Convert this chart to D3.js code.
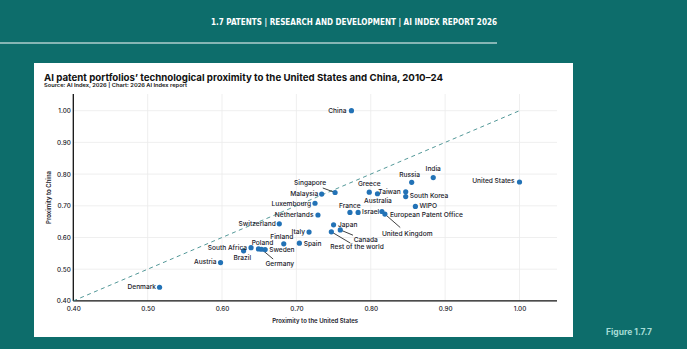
<!DOCTYPE html>
<html>
<head>
<meta charset="utf-8">
<script src="https://cdn.jsdelivr.net/npm/d3@7/dist/d3.min.js"></script>
<style>
  html, body { margin: 0; padding: 0; background: #0d6d6b; }
  svg { display: block; }
</style>
</head>
<body>
<svg id="chart" width="687" height="349"></svg>
<script>
// ---------------- DATA ----------------
const countries = ["China","United States","India","Russia","Greece","Australia","Taiwan","South Korea","WIPO",
  "European Patent Office","United Kingdom","Israel","France","Singapore","Malaysia","Luxembourg","Netherlands",
  "Switzerland","Japan","Canada","Rest of the world","Italy","Finland","Spain","South Africa","Poland","Germany",
  "Sweden","Brazil","Austria","Denmark"];
const proximityUS = [0.774,1.000,0.884,0.855,0.798,0.809,0.847,0.847,0.860,
  0.819,0.815,0.783,0.772,0.752,0.734,0.725,0.729,
  0.677,0.750,0.759,0.747,0.717,0.683,0.704,0.639,0.649,0.653,
  0.658,0.629,0.598,0.516];
const proximityChina = [1.000,0.775,0.789,0.774,0.743,0.738,0.744,0.729,0.698,
  0.674,0.682,0.679,0.679,0.742,0.737,0.708,0.671,
  0.643,0.640,0.624,0.618,0.617,0.580,0.582,0.568,0.564,0.563,
  0.562,0.558,0.521,0.443];
const xTicks = [0.40,0.50,0.60,0.70,0.80,0.90,1.00];
const yTicks = [0.40,0.50,0.60,0.70,0.80,0.90,1.00];
const diagonal = [0.40,1.00];

// ---------------- LABEL PLACEMENT (annotation layout, px offsets from point) ----------------
const labelLayout = {
  "China": {a:"end", dx:-5, dy:-0.5},
  "United States": {a:"end", dx:-5, dy:-1.5},
  "India": {a:"middle", dx:0, dy:-8.7},
  "Russia": {a:"middle", dx:-2, dy:-7.7},
  "Greece": {a:"middle", dx:0, dy:-8},
  "Australia": {a:"middle", dx:0.5, dy:7.3},
  "Taiwan": {a:"end", dx:-5, dy:0},
  "South Korea": {a:"start", dx:4, dy:-1},
  "WIPO": {a:"start", dx:4, dy:-0.4},
  "European Patent Office": {a:"start", dx:5, dy:0.4},
  "United Kingdom": {a:"middle", dx:25.3, dy:22, lx:18.3, ly:16},
  "Israel": {a:"start", dx:4, dy:-0.4},
  "France": {a:"middle", dx:0, dy:-7},
  "Singapore": {a:"middle", dx:-25, dy:-9.5, lx:-12.3, ly:-4.5},
  "Malaysia": {a:"end", dx:-3.5, dy:0},
  "Luxembourg": {a:"end", dx:-4, dy:0.7},
  "Netherlands": {a:"end", dx:-4.5, dy:-0.3},
  "Switzerland": {a:"end", dx:-3.5, dy:0},
  "Japan": {a:"start", dx:4.4, dy:-0.3},
  "Canada": {a:"middle", dx:25.5, dy:10, lx:12.7, ly:5.3},
  "Rest of the world": {a:"middle", dx:25.7, dy:15.3, lx:19, ly:11.3},
  "Italy": {a:"end", dx:-4, dy:-0.3},
  "Finland": {a:"middle", dx:-2, dy:-7.3},
  "Spain": {a:"start", dx:4.3, dy:0},
  "South Africa": {a:"end", dx:-4, dy:0},
  "Poland": {a:"middle", dx:4, dy:-6.3},
  "Germany": {a:"middle", dx:18.3, dy:14.8, lx:11.7, ly:9.8},
  "Sweden": {a:"start", dx:4, dy:0},
  "Brazil": {a:"middle", dx:-1.3, dy:6.7},
  "Austria": {a:"end", dx:-4, dy:-0.4},
  "Denmark": {a:"end", dx:-3.5, dy:-0.6}
};

// ---------------- DRAW ----------------
const svg = d3.select("#chart");
const W = 687, H = 349;
const teal = "#0d6d6b";
svg.append("rect").attr("width", W).attr("height", H).attr("fill", teal);

// Header
svg.append("text")
  .attr("x", 497).attr("y", 25.3)
  .attr("text-anchor", "end")
  .attr("fill", "#ffffff")
  .attr("font-family", "'DejaVu Sans Condensed', 'Liberation Sans Narrow', 'DejaVu Sans', sans-serif")
  .attr("font-weight", 700)
  .attr("font-size", 9)
  .attr("textLength", 286).attr("lengthAdjust", "spacingAndGlyphs")
  .text("1.7 PATENTS  |  RESEARCH AND DEVELOPMENT  |  AI INDEX REPORT 2026");
svg.append("line").attr("x1", 0).attr("x2", 497).attr("y1", 43).attr("y2", 43)
  .attr("stroke", "#ffffff").attr("stroke-width", 1);

// White panel
svg.append("rect").attr("x", 34).attr("y", 63).attr("width", 539).attr("height", 274).attr("fill", "#ffffff");

// Figure label
svg.append("text").attr("x", 652).attr("y", 335).attr("text-anchor", "end")
  .attr("fill", "#a6dcd6").attr("font-family", "Inter, 'Open Sans', sans-serif")
  .attr("font-weight", 700).attr("font-size", 8.5)
  .text("Figure 1.7.7");

// Title
svg.append("text").attr("x", 44).attr("y", 80.5)
  .attr("fill", "#111").attr("font-family", "Inter, 'Open Sans', sans-serif")
  .attr("font-weight", 700).attr("font-size", 9.6)
  .attr("textLength", 399).attr("lengthAdjust", "spacingAndGlyphs")
  .text("AI patent portfolios\u2019 technological proximity to the United States and China, 2010\u201324");
svg.append("text").attr("x", 44).attr("y", 86.5)
  .attr("fill", "#111").attr("font-family", "Inter, 'Open Sans', sans-serif")
  .attr("font-weight", 600).attr("font-size", 5)
  .attr("textLength", 143).attr("lengthAdjust", "spacingAndGlyphs")
  .text("Source: AI Index, 2026 | Chart: 2026 AI Index report");

// Scales
const x = d3.scaleLinear().domain([0.40, 1.00]).range([73.3, 519.5]);
const y = d3.scaleLinear().domain([0.40, 1.00]).range([300.9, 110.7]);
const plotRight = 557, plotTop = 94;

const g = svg.append("g");
// grid
g.selectAll(".vg").data(xTicks.slice(1)).join("line")
  .attr("x1", d => x(d)).attr("x2", d => x(d)).attr("y1", plotTop).attr("y2", y(0.40))
  .attr("stroke", "#ebebeb").attr("stroke-width", 0.8);
g.selectAll(".hg").data(yTicks.slice(1)).join("line")
  .attr("x1", x(0.40)).attr("x2", plotRight).attr("y1", d => y(d)).attr("y2", d => y(d))
  .attr("stroke", "#ebebeb").attr("stroke-width", 0.8);

// axes
const xAxis = d3.axisBottom(x).tickValues(xTicks).tickFormat(d3.format(".2f")).tickSize(0).tickPadding(6);
const yAxis = d3.axisLeft(y).tickValues(yTicks).tickFormat(d3.format(".2f")).tickSize(0).tickPadding(2.5);
const gx = svg.append("g").attr("transform", `translate(0,${y(0.40)})`).call(xAxis);
const gy = svg.append("g").attr("transform", `translate(${x(0.40)},0)`).call(yAxis);
[gx, gy].forEach(a => {
  a.select(".domain").remove();
  a.selectAll("text").attr("fill", "#1a1a2a").attr("font-family", "Inter, 'Open Sans', sans-serif")
    .attr("font-weight", 500).attr("font-size", 6.3);
});
svg.append("line").attr("x1", x(0.40)).attr("x2", plotRight).attr("y1", y(0.40)).attr("y2", y(0.40))
  .attr("stroke", "#111").attr("stroke-width", 1.3);
svg.append("line").attr("x1", x(0.40)).attr("x2", x(0.40)).attr("y1", plotTop).attr("y2", y(0.40))
  .attr("stroke", "#111").attr("stroke-width", 1.3);

// axis titles
svg.append("text").attr("x", (x(0.40) + plotRight) / 2).attr("y", 323)
  .attr("text-anchor", "middle").attr("fill", "#1a1a2a")
  .attr("font-family", "Inter, 'Open Sans', sans-serif").attr("font-weight", 600).attr("font-size", 6)
  .text("Proximity to the United States");
svg.append("text").attr("transform", `translate(51,${(plotTop + y(0.40)) / 2}) rotate(-90)`)
  .attr("text-anchor", "middle").attr("fill", "#1a1a2a")
  .attr("font-family", "Inter, 'Open Sans', sans-serif").attr("font-weight", 600).attr("font-size", 6)
  .text("Proximity to China");

// diagonal
svg.append("line")
  .attr("x1", x(diagonal[0])).attr("y1", y(diagonal[0]))
  .attr("x2", x(diagonal[1])).attr("y2", y(diagonal[1]))
  .attr("stroke", "#3f8c8c").attr("stroke-width", 0.9).attr("stroke-dasharray", "4,3.5");

// data
const data = countries.map((c, i) => ({name: c, ux: proximityUS[i], cy: proximityChina[i]}));

// leader lines
svg.append("g").selectAll("line").data(data.filter(d => labelLayout[d.name].lx !== undefined)).join("line")
  .attr("x1", d => x(d.ux)).attr("y1", d => y(d.cy))
  .attr("x2", d => x(d.ux) + labelLayout[d.name].lx).attr("y2", d => y(d.cy) + labelLayout[d.name].ly)
  .attr("stroke", "#111").attr("stroke-width", 0.8);

// points
svg.append("g").selectAll("circle").data(data).join("circle")
  .attr("cx", d => x(d.ux)).attr("cy", d => y(d.cy)).attr("r", 2.6)
  .attr("fill", "#2272b6");

// labels
svg.append("g").selectAll("text").data(data).join("text")
  .attr("x", d => x(d.ux) + labelLayout[d.name].dx)
  .attr("y", d => y(d.cy) + labelLayout[d.name].dy)
  .attr("dy", "0.35em")
  .attr("text-anchor", d => labelLayout[d.name].a)
  .attr("fill", "#1a1a2a")
  .attr("font-family", "Inter, 'Open Sans', sans-serif")
  .attr("font-weight", 500).attr("font-size", 6.6)
  .text(d => d.name);
</script>
</body>
</html>
